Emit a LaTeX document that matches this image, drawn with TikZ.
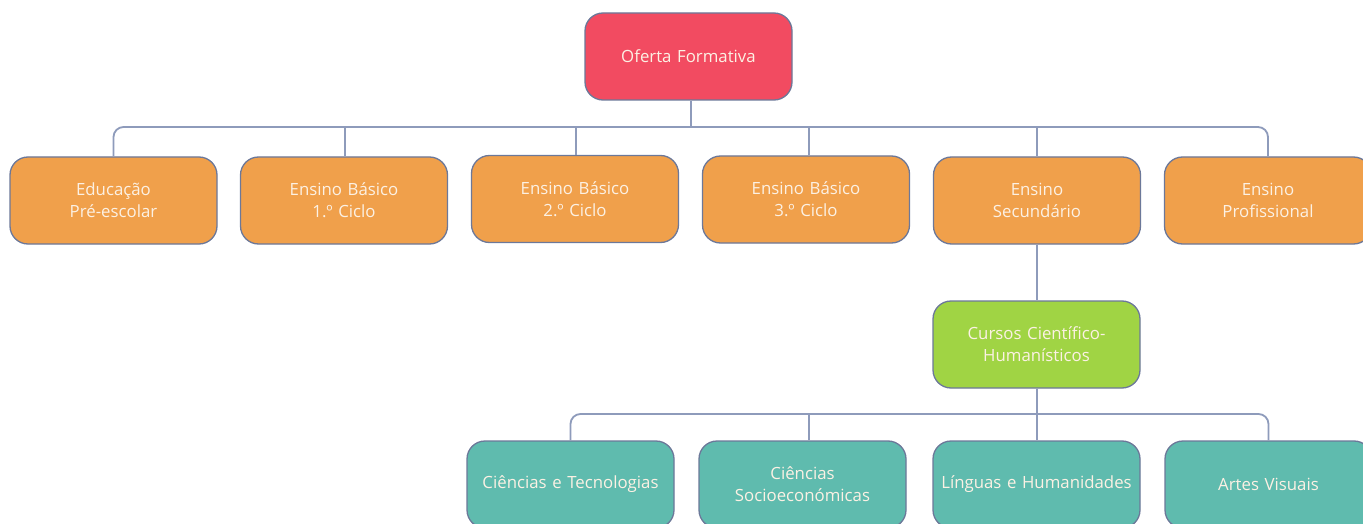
\documentclass[tikz,border=0pt]{standalone}
\usepackage{fontspec}
\setmainfont{Open Sans}
\definecolor{cred}{HTML}{F24B61}
\definecolor{corange}{HTML}{F0A04B}
\definecolor{cgreen}{HTML}{A0D444}
\definecolor{cteal}{HTML}{5FBBAE}
\definecolor{cborder}{HTML}{6C7899}
\definecolor{cline}{HTML}{8E9BBB}
\definecolor{ctext}{HTML}{FCF1E4}
\tikzset{
  box/.style={draw=cborder, line width=1.3pt, rounded corners=18pt,
    minimum width=207pt, minimum height=87pt, text width=204pt, align=center,
    inner sep=0pt, text=ctext, font=\fontsize{16.8}{22}\selectfont},
  redbox/.style={box, fill=cred},
  orangebox/.style={box, fill=corange},
  greenbox/.style={box, fill=cgreen},
  tealbox/.style={box, fill=cteal},
  conn/.style={draw=cline, line width=1.8pt},
  rconn/.style={conn, rounded corners=10pt}
}
\begin{document}
\begin{tikzpicture}[x=1pt,y=-1pt]
\useasboundingbox (0,0) rectangle (1363,524);
\clip (0,0) rectangle (1363,524);
\fill[white] (0,0) rectangle (1363,524);
% nodes
\node[redbox] (of) at (688.5,56.5) {Oferta Formativa};
\node[orangebox] (edu) at (113.5,200.5) {Educação\\Pré-escolar};
\node[orangebox] (eb1) at (344,200.5) {Ensino Básico\\1.º Ciclo};
\node[orangebox] (eb2) at (575,199) {Ensino Básico\\2.º Ciclo};
\node[orangebox] (eb3) at (806,199.5) {Ensino Básico\\3.º Ciclo};
\node[orangebox] (es) at (1037,200.5) {Ensino\\Secundário};
\node[orangebox] (ep) at (1268,200.5) {Ensino\\Profissional};
\node[greenbox] (cch) at (1036.5,344.5) {Cursos Científico-\\Humanísticos};
\node[tealbox] (ct) at (570.5,484.5) {Ciências e Tecnologias};
\node[tealbox] (cs) at (802.5,484.5) {Ciências\\Socioeconómicas};
\node[tealbox] (lh) at (1036.5,484.5) {Línguas e Humanidades};
\node[tealbox] (av) at (1268.5,484.5) {Artes Visuais};
% bus coordinates
\coordinate (bus1) at (691,127);
\coordinate (bus2) at (1037,414);
% connectors top level
\draw[conn] (of.south -| bus1) -- (bus1);
\draw[rconn] (edu.north) |- (bus1) -| (ep.north);
\draw[conn] ([xshift=1pt]eb1.north) -- ([xshift=1pt]eb1.north |- bus1);
\draw[conn] ([xshift=1pt]eb2.north) -- ([xshift=1pt]eb2.north |- bus1);
\draw[conn] ([xshift=3pt]eb3.north) -- ([xshift=3pt]eb3.north |- bus1);
\draw[conn] (es.north) -- (es.north |- bus1);
% secondary
\draw[conn] (es.south -| bus2) -- (cch.north -| bus2);
\draw[conn] (cch.south -| bus2) -- (bus2);
\draw[rconn] (ct.north) |- (bus2) -| (av.north);
\draw[conn] ([xshift=6.5pt]cs.north) -- ([xshift=6.5pt]cs.north |- bus2);
\draw[conn] (lh.north -| bus2) -- (bus2);
\end{tikzpicture}
\end{document}
